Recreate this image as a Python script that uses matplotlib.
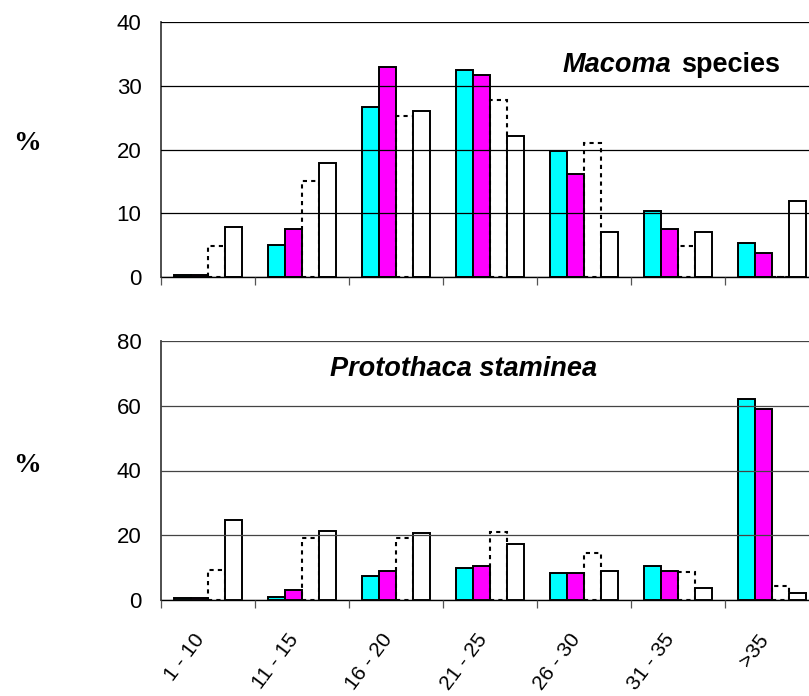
import matplotlib
matplotlib.use("Agg")
import matplotlib.pyplot as plt
import matplotlib.transforms as mtransforms
import numpy as np

# size classes (mm)
size_classes = ["1 - 10", "11 - 15", "16 - 20", "21 - 25", "26 - 30", "31 - 35", ">35"]

# Macoma species, % per size class
macoma_cyan = [0.3, 5.0, 26.7, 32.4, 19.8, 10.3, 5.3]
macoma_magenta = [0.3, 7.5, 33.0, 31.7, 16.1, 7.5, 3.8]
macoma_dashed = [4.9, 15.1, 25.2, 27.8, 21.0, 4.9, 0.0]
macoma_white = [7.8, 17.9, 26.1, 22.1, 7.0, 7.0, 12.0]

# Protothaca staminea, % per size class
proto_cyan = [0.5, 1.0, 7.3, 9.8, 8.4, 10.4, 62.2]
proto_magenta = [0.5, 3.0, 9.1, 10.4, 8.4, 9.1, 59.1]
proto_dashed = [9.4, 19.3, 19.3, 21.1, 14.6, 8.8, 4.4]
proto_white = [24.6, 21.4, 20.8, 17.2, 9.1, 3.6, 2.3]

W, H = 809, 696
fig = plt.figure(figsize=(W / 100, H / 100), dpi=100)
plt.rcParams['font.family'] = ['Liberation Sans', 'DejaVu Sans']

width = 0.183
offsets = [-0.275, -0.092, 0.092, 0.275]
x = np.arange(len(size_classes))


def px_axes(left, top, right, bottom):
    return [left / W, 1 - bottom / H, (right - left) / W, (bottom - top) / H]


def draw_panel(ax, series, ymax, step, grid_color):
    cyan, magenta, dashed, white = series
    ax.bar(x + offsets[0], cyan, width, color='#00FFFF', edgecolor='black', linewidth=1.4, zorder=2)
    ax.bar(x + offsets[1], magenta, width, color='#FF00FF', edgecolor='black', linewidth=1.4, zorder=2)
    ax.bar(x + offsets[2], dashed, width, fill=False, edgecolor='black', linewidth=1.5,
           linestyle=(0, (2, 2)), zorder=2)
    ax.bar(x + offsets[3], white, width, color='white', edgecolor='black', linewidth=1.4, zorder=2)

    ax.set_xlim(-0.5, 6.5)
    ax.set_ylim(0, ymax)
    ax.set_yticks(np.arange(0, ymax + 1, step))
    ax.yaxis.grid(True, color=grid_color, linewidth=0.9, zorder=3)
    ax.set_axisbelow(False)
    ax.tick_params(axis='y', length=0, labelsize=16, pad=14)

    ax.set_xticks(np.arange(-0.5, 7, 1), minor=True)
    ax.tick_params(axis='x', which='minor', length=6, width=0.9, color='#555555', direction='out')
    ax.tick_params(axis='x', which='major', length=0)

    for s in ['top', 'right']:
        ax.spines[s].set_visible(False)
    ax.spines['left'].set_color('#404040')
    ax.spines['left'].set_linewidth(1.3)
    ax.spines['bottom'].set_color('black')
    ax.spines['bottom'].set_linewidth(1.0)


ax1 = fig.add_axes(px_axes(161, 22, 819, 277))
draw_panel(ax1, [macoma_cyan, macoma_magenta, macoma_dashed, macoma_white], 40, 10, 'black')
ax1.set_xticks(x)
ax1.set_xticklabels([])

ax2 = fig.add_axes(px_axes(161, 341, 819, 600))
draw_panel(ax2, [proto_cyan, proto_magenta, proto_dashed, proto_white], 80, 20, '#444444')
ax2.set_xticks(x)
ax2.set_xticklabels(size_classes, rotation=53, ha='right', va='center',
                    rotation_mode='anchor', fontsize=15)
ax2.tick_params(axis='x', which='major', pad=26)
shift = mtransforms.ScaledTranslation(-7 / 100, 0, fig.dpi_scale_trans)
for lbl in ax2.get_xticklabels():
    lbl.set_transform(lbl.get_transform() + shift)

# panel titles
fig.text(671 / W, 1 - 72 / H, "Macoma", fontsize=19.5, fontweight='bold', style='italic',
         ha='right', va='baseline')
fig.text(681 / W, 1 - 72 / H, "species", fontsize=19.5, fontweight='bold',
         ha='left', va='baseline')
fig.text(464 / W, 1 - 376 / H, "Protothaca staminea", fontsize=19.5, fontweight='bold',
         style='italic', ha='center', va='baseline')

# y labels
for yc in [143, 466]:
    fig.text(27 / W, 1 - yc / H, "%", fontsize=20, fontweight='bold',
             family=['Liberation Serif', 'DejaVu Serif'], ha='center', va='center')

fig.savefig("out.png", dpi=100)
